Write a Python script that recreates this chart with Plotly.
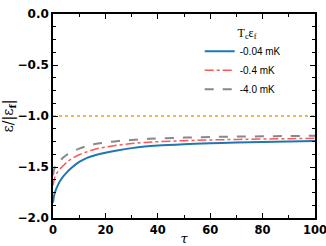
import plotly.graph_objects as go

tau = [0, 0.5, 1, 2, 3, 4, 5, 7, 10, 13, 16, 20, 25, 30, 35, 40, 50, 60, 70, 80, 90, 100]
e_004 = [-1.85, -1.77, -1.73, -1.67, -1.625, -1.59, -1.56, -1.51, -1.45, -1.41, -1.385, -1.36, -1.335, -1.315, -1.30, -1.29, -1.277, -1.267, -1.26, -1.254, -1.249, -1.245]
e_04 = [-1.68, -1.62, -1.58, -1.54, -1.51, -1.485, -1.46, -1.42, -1.38, -1.35, -1.325, -1.305, -1.285, -1.27, -1.26, -1.252, -1.242, -1.235, -1.23, -1.226, -1.222, -1.219]
e_40 = [-1.58, -1.52, -1.49, -1.455, -1.43, -1.405, -1.385, -1.355, -1.32, -1.295, -1.275, -1.26, -1.245, -1.235, -1.226, -1.22, -1.212, -1.206, -1.202, -1.199, -1.196, -1.194]
ref_x = [0, 100]
ref_y = [-1.0, -1.0]
labels = ["-0.04 mK", "-0.4 mK", "-4.0 mK"]

fig = go.Figure()
fig.add_trace(go.Scatter(x=ref_x, y=ref_y, mode="lines", showlegend=False,
                         line=dict(color="#e8a317", width=1.5, dash="dot")))
fig.add_trace(go.Scatter(x=tau, y=e_004, mode="lines", name=labels[0], line_shape="spline",
                         line=dict(color="#1f77b4", width=2)))
fig.add_trace(go.Scatter(x=tau, y=e_04, mode="lines", name=labels[1], line_shape="spline",
                         line=dict(color="#ff5555", width=1.5, dash="dashdot")))
fig.add_trace(go.Scatter(x=tau, y=e_40, mode="lines", name=labels[2], line_shape="spline",
                         line=dict(color="#888888", width=2, dash="dash")))

axis_common = dict(showline=True, linecolor="black", linewidth=1.5, mirror="allticks",
                   ticks="inside", ticklen=5, tickwidth=1.2, tickcolor="black",
                   showgrid=False, zeroline=False, automargin=False,
                   ticklabeloverflow="allow")

fig.update_layout(
    width=326, height=246, autosize=False,
    margin=dict(l=53, r=11, t=14, b=28),
    plot_bgcolor="white", paper_bgcolor="white",
    xaxis=dict(range=[0, 100], dtick=20, tickformat="d",
               minor=dict(dtick=10, ticks="inside", ticklen=3, tickcolor="black"),
               tickfont=dict(family="DejaVu Sans", size=11.5, color="black", weight="bold"),
               title=dict(text="τ", standoff=0, font=dict(family="DejaVu Serif", size=13, color="black", style="italic")),
               **axis_common),
    yaxis=dict(range=[-2.0, 0.0], dtick=0.5, tickformat=".1f",
               minor=dict(dtick=0.125, ticks="inside", ticklen=3, tickcolor="black"),
               tickfont=dict(family="DejaVu Sans", size=12, color="black", weight="bold"),
               title=dict(text="ε/|ε<sub><b>f</b></sub>|", standoff=6, font=dict(family="DejaVu Serif", size=14, color="black")),
               **axis_common),
    legend=dict(x=0.56, y=0.965, xanchor="left", yanchor="top", bgcolor="rgba(0,0,0,0)",
                title=dict(text="   T<sub>c</sub>ε<sub>f</sub>", side="top center",
                           font=dict(family="Liberation Serif", size=12, color="black")),
                font=dict(family="Liberation Sans", size=10, color="black"),
                itemwidth=30, tracegroupgap=0),
)

fig.write_html("out.html", config={"responsive": False, "displayModeBar": False},
               post_script="document.body.style.margin='0';")
